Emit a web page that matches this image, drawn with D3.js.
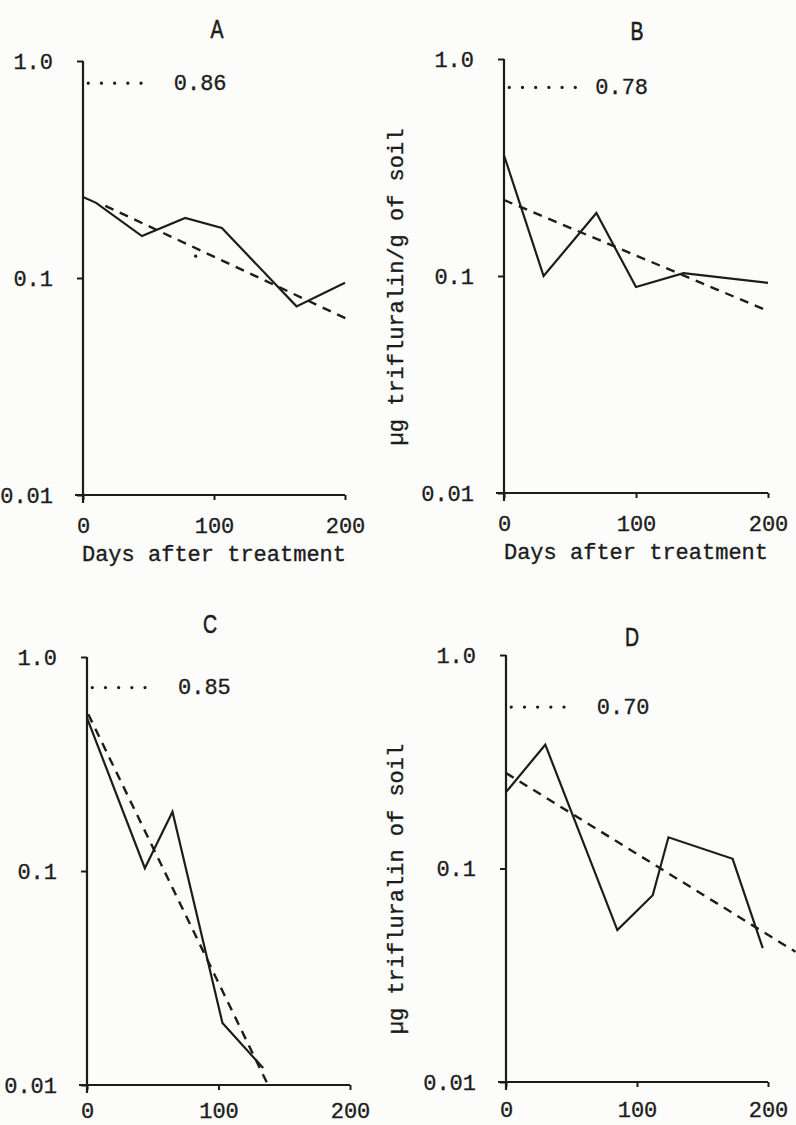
<!DOCTYPE html>
<html>
<head>
<meta charset="utf-8">
<script src="https://cdn.jsdelivr.net/npm/d3@7"></script>
<style>
  body { margin: 0; background: #fcfcfa; }
  svg { display: block; }
  text { font-family: "Liberation Mono", "DejaVu Sans Mono", monospace; fill: #1c1c1c; stroke: #1c1c1c; stroke-width: 0.35px; }
  .title { font-family: "Liberation Sans", sans-serif; stroke-width: 0.6px; }
</style>
</head>
<body>
<svg id="chart" width="796" height="1125"></svg>
<script>
/*
  trifluralin residues in soil, 4 panels (A-D)
  - log y axis, solid = measured, dashed = fitted decline
*/
const panelLetters = ['A', 'B', 'C', 'D'];
const rLabels = ['0.86', '0.78', '0.85', '0.70'];
const rLevels = [0.79, 0.74, 0.72, 0.57]; // where the dotted leader sits
const rDays = [4, 54];

const daysA = [0, 10, 45, 78, 106, 163, 200];
const residueA = [0.236, 0.222, 0.156, 0.189, 0.170, 0.074, 0.095];
const fitA = [[17, 0.215], [201, 0.065]];
const strayA = [[86, 0.126]];

const daysB = [0, 30, 70, 100, 136, 200];
const residueB = [0.36, 0.10, 0.195, 0.089, 0.103, 0.093];
const fitB = [[0, 0.224], [200, 0.069]];

const daysC = [0, 44, 65, 103, 134];
const residueC = [0.52, 0.103, 0.189, 0.0195, 0.012];
const fitC = [[1, 0.54], [137, 0.0102]];

const daysD = [0, 30, 85, 112, 124, 173, 196];
const residueD = [0.228, 0.38, 0.0515, 0.075, 0.14, 0.111, 0.0424];
const fitD = [[0, 0.28], [221, 0.0407]];

const xTicks = [0, 100, 200];
const yTicks = [1.0, 0.1, 0.01];
const yTickLabels = ['1.0', '0.1', '0.01'];
const xTitle = 'Days after treatment';
const yTitles = ['µg trifluralin/g of soil', 'µg trifluralin of soil'];

const panels = [
  { days: daysA, vals: residueA, fit: fitA, stray: strayA },
  { days: daysB, vals: residueB, fit: fitB, stray: [] },
  { days: daysC, vals: residueC, fit: fitC, stray: [] },
  { days: daysD, vals: residueD, fit: fitD, stray: [] }
];

// plot boxes measured off the page
const boxes = [
  { l: 83, r: 345, t: 61, b: 495, tx: 217, ty: 29, xLab: true, pad: 17 },
  { l: 504, r: 768, t: 59, b: 493, tx: 637, ty: 31, xLab: true, pad: 17 },
  { l: 87, r: 350, t: 657, b: 1085, tx: 210, ty: 624, xLab: false, pad: 12 },
  { l: 506, r: 768, t: 655, b: 1082, tx: 632, ty: 637, xLab: false, pad: 14 }
];

const svg = d3.select('#chart');
const ink = '#1c1c1c';

panels.forEach((p, i) => {
  const box = boxes[i];
  const x = d3.scaleLinear().domain([0, 200]).range([box.l, box.r]);
  const y = d3.scaleLog().domain([0.01, 1]).range([box.b, box.t]);
  const g = svg.append('g');

  // y axis
  const yAxis = g.append('g')
    .attr('transform', `translate(${box.l},0)`)
    .call(d3.axisLeft(y).tickValues(yTicks).tickSize(6).tickPadding(24)
      .tickFormat((d, j) => yTickLabels[j]));
  yAxis.select('.domain').remove();
  yAxis.selectAll('line').attr('stroke', ink).attr('stroke-width', 2);
  yAxis.selectAll('text').style('font-size', '22px').attr('fill', ink);

  // x axis
  const xAxis = g.append('g')
    .attr('transform', `translate(0,${box.b})`)
    .call(d3.axisBottom(x).tickValues(xTicks).tickSize(5).tickPadding(box.pad));
  xAxis.select('.domain').remove();
  xAxis.selectAll('line').attr('stroke', ink).attr('stroke-width', 2);
  xAxis.selectAll('text').style('font-size', '22px').attr('fill', ink);

  // axis lines, a bit past the origin like the original
  g.append('line')
    .attr('x1', box.l).attr('x2', box.l)
    .attr('y1', y(1)).attr('y2', y(0.01) + 8)
    .attr('stroke', ink).attr('stroke-width', 2.2);
  g.append('line')
    .attr('x1', box.l - 8).attr('x2', x(200))
    .attr('y1', y(0.01)).attr('y2', y(0.01))
    .attr('stroke', ink).attr('stroke-width', 2.2);

  // measured residues
  const line = d3.line().x(d => x(d[0])).y(d => y(d[1]));
  g.append('path')
    .datum(d3.zip(p.days, p.vals))
    .attr('d', line)
    .attr('fill', 'none')
    .attr('stroke', ink)
    .attr('stroke-width', 2.2)
    .attr('stroke-linejoin', 'miter');

  // fitted decline
  g.append('path')
    .datum(p.fit)
    .attr('d', line)
    .attr('fill', 'none')
    .attr('stroke', ink)
    .attr('stroke-width', 2.4)
    .attr('stroke-dasharray', '9,7');

  g.selectAll('.stray')
    .data(p.stray)
    .enter().append('circle')
      .attr('cx', d => x(d[0]))
      .attr('cy', d => y(d[1]))
      .attr('r', 1.6)
      .attr('fill', ink);

  // dotted leader + r value
  g.append('line')
    .attr('x1', x(rDays[0])).attr('x2', x(rDays[1]))
    .attr('y1', y(rLevels[i])).attr('y2', y(rLevels[i]))
    .attr('stroke', ink)
    .attr('stroke-width', 3.3)
    .attr('stroke-linecap', 'round')
    .attr('stroke-dasharray', '0,13.2');
  g.append('text')
    .attr('x', x(rDays[1]) + 20)
    .attr('y', y(rLevels[i]))
    .attr('dy', '0.3em')
    .style('font-size', '22px')
    .text(rLabels[i]);

  // panel letter (narrow, like the original lettering)
  g.append('text')
    .attr('class', 'title')
    .attr('transform', `translate(${box.tx},${box.ty}) scale(0.78,1)`)
    .attr('dy', '0.36em')
    .attr('text-anchor', 'middle')
    .style('font-size', '25px')
    .text(panelLetters[i]);

  if (box.xLab) {
    g.append('text')
      .attr('x', (box.l + box.r) / 2)
      .attr('y', box.b + 66)
      .attr('text-anchor', 'middle')
      .style('font-size', '22px')
      .text(xTitle);
  }
});

// shared y titles sitting between the columns
[[287, yTitles[0]], [889, yTitles[1]]].forEach(([cy, t]) => {
  svg.append('text')
    .attr('transform', `translate(403,${cy}) rotate(-90)`)
    .attr('text-anchor', 'middle')
    .style('font-size', '22px')
    .text(t);
});
</script>
</body>
</html>
